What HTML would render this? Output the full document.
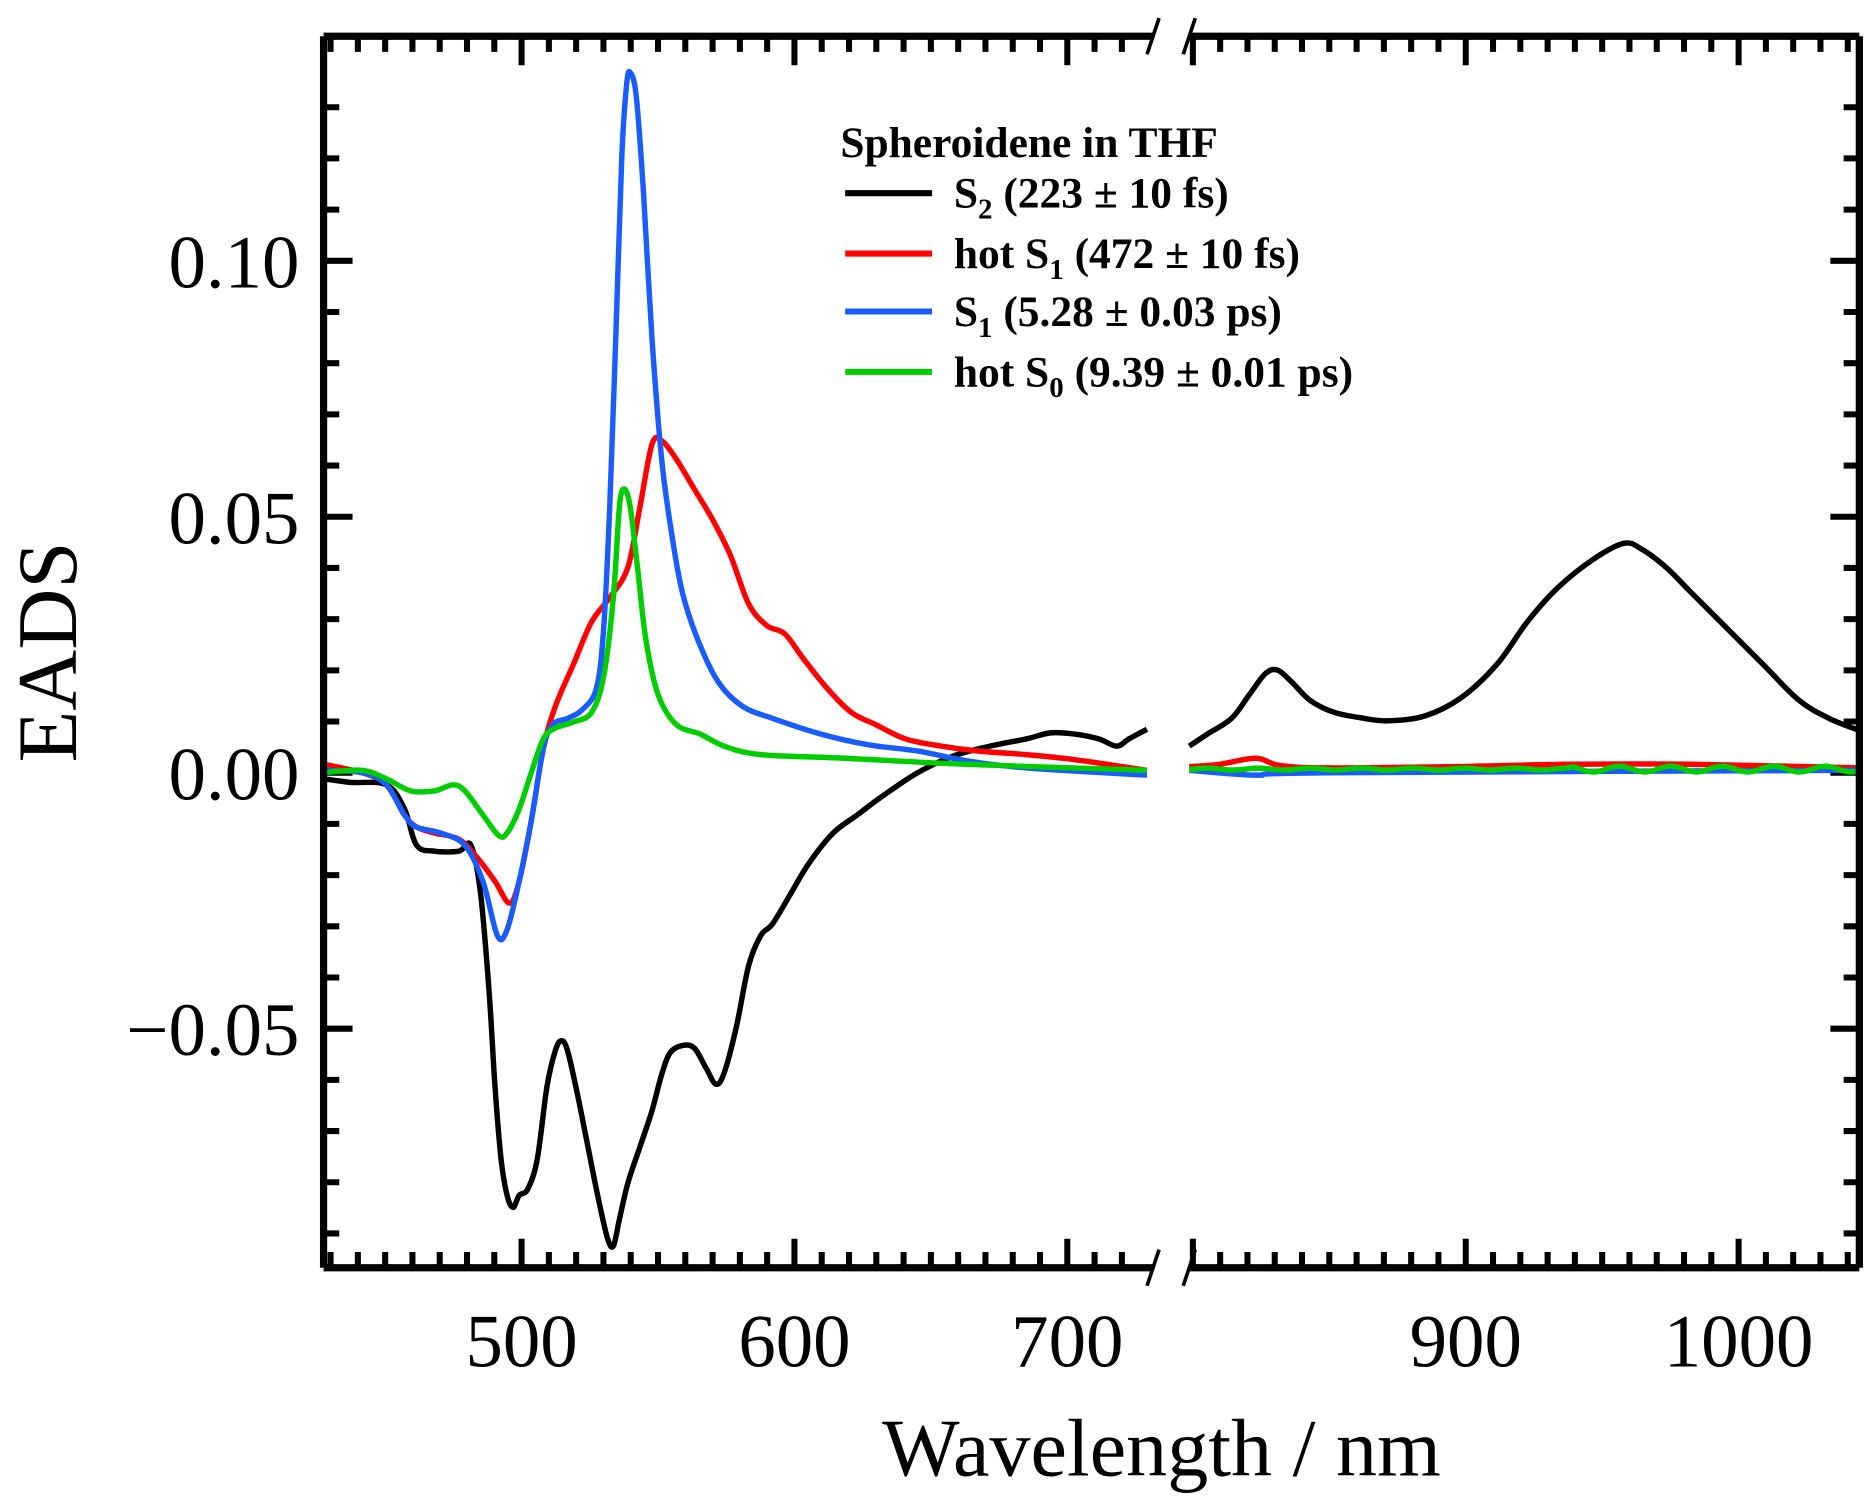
<!DOCTYPE html>
<html><head><meta charset="utf-8"><style>html,body{margin:0;padding:0;background:#fff}svg{display:block}</style></head>
<body>
<svg id="s" xmlns="http://www.w3.org/2000/svg" width="1869" height="1498" viewBox="0 0 1548 1240.7" font-family="Liberation Serif, serif">
<rect width="1548" height="1241" fill="#fff"/>
<g id="ticks" stroke="#000" stroke-width="5"></g>
<g id="curves" fill="none" stroke-width="4.5" stroke-linejoin="round">
<polyline stroke="#000" points="268,645 290,648 320,650 335,670 345,700 360,705 380,705 390,700 398,740 405,820 410,900 415,960 420,990 425,1000 430,990 437,985 445,960 453,900 460,870 465,862 470,870 478,905 487,950 495,990 503,1025 508,1032 513,1010 520,980 530,950 540,920 548,890 555,872 565,866 575,868 585,885 593,898 600,888 610,850 620,800 630,775 640,765 655,740 670,715 690,690 710,675 730,660 760,640 790,626 820,618 850,612 870,607 890,608 910,612 925,618 935,612 950,604"/>
<polyline stroke="#000" points="985,618 1000,608 1020,595 1035,575 1048,558 1058,555 1070,565 1085,580 1105,590 1130,595 1150,597 1180,593 1210,578 1240,550 1265,515 1290,487 1320,463 1345,450 1360,455 1380,470 1400,490 1430,520 1460,550 1490,580 1515,595 1540,605"/>
<polyline stroke="#f00" points="268,633 300,640 320,650 335,675 345,685 360,690 380,695 395,710 410,730 422,748 430,730 440,680 450,620 460,585 475,550 490,515 505,495 520,470 530,420 540,368 548,365 560,380 575,405 590,430 605,460 620,500 635,518 650,525 665,545 685,570 705,590 725,600 750,612 780,618 810,622 850,625 880,628 910,632 950,638"/>
<polyline stroke="#f00" points="985,635 1010,633 1040,628 1060,634 1100,636 1200,635 1300,633 1400,633 1540,636"/>
<polyline stroke="#1a5cff" points="268,638 300,640 320,650 335,675 345,685 365,690 385,700 400,730 412,775 420,770 430,730 440,680 450,620 458,600 470,595 482,588 494,570 500,520 505,420 510,280 515,130 519,70 522,60 527,80 533,160 540,280 548,380 556,440 565,490 578,530 595,565 615,585 640,595 680,608 720,617 760,622 800,630 850,636 950,642"/>
<polyline stroke="#1a5cff" points="985,638 1040,642 1100,640 1540,638"/>
<polyline stroke="#00cc00" points="268,640 300,638 320,645 340,655 360,655 375,650 385,655 400,675 413,692 420,690 430,670 440,640 450,612 460,603 475,598 490,590 500,560 508,495 513,420 517,405 522,420 528,470 535,530 545,575 560,600 580,608 600,618 630,625 700,628 800,633 950,638"/>
<polyline id="gr" stroke="#00cc00" points="985,636 1100,637 1300,636 1540,638"/>
</g>
<g stroke="#000" stroke-width="6" fill="none">
<path d="M268,30 V1050 M1540,30 V1050 M268,30 H955 M985,30 H1540 M268,1050 H955 M985,1050 H1540"/>
</g>
<g stroke="#000" stroke-width="3">
<path d="M950,45 L960,15 M980,45 L990,15 M950,1065 L960,1035 M980,1065 L990,1035"/>
</g>
<g font-size="62" text-anchor="end">
<text x="248" y="238">0.10</text><text x="248" y="450">0.05</text><text x="248" y="662">0.00</text><text x="248" y="874">−0.05</text>
</g>
<g font-size="62" text-anchor="middle">
<text x="432" y="1132">500</text><text x="658" y="1132">600</text><text x="884" y="1132">700</text><text x="1214" y="1132">900</text><text x="1440" y="1132">1000</text>
</g>
<text x="962" y="1222" font-size="68" text-anchor="middle">Wavelength / nm</text>
<text transform="translate(63,540) rotate(-90)" font-size="70" text-anchor="middle">EADS</text>
<g font-size="36" font-weight="bold">
<text x="696" y="130">Spheroidene in THF</text>
<text x="790" y="172">S<tspan font-size="24" dy="9">2</tspan><tspan dy="-9"> (223 ± 10 fs)</tspan></text>
<text x="790" y="222">hot S<tspan font-size="24" dy="9">1</tspan><tspan dy="-9"> (472 ± 10 fs)</tspan></text>
<text x="790" y="270">S<tspan font-size="24" dy="9">1</tspan><tspan dy="-9"> (5.28 ± 0.03 ps)</tspan></text>
<text x="790" y="320">hot S<tspan font-size="24" dy="9">0</tspan><tspan dy="-9"> (9.39 ± 0.01 ps)</tspan></text>
</g>
<g stroke-width="5">
<path d="M700,160 H772" stroke="#000"/><path d="M700,210 H772" stroke="#f00"/>
<path d="M700,258 H772" stroke="#1a5cff"/><path d="M700,308 H772" stroke="#00cc00"/>
</g>
<script>
var g=document.getElementById('ticks'),d='';
for(var v=-0.09;v <= 0.135;v+=0.01){var y=640-v/0.05*212,r=Math.round(v*100),L=(r%5==0)?24:13;
d+='M268,'+y+'h'+L+'M1540,'+y+'h-'+L;}
function xt(a,b,x0,n0){for(var n=a;n <= b;n+=10){var x=x0+(n-n0)*2.26,L=(n%100==0)?24:13;d+='M'+x+',30v'+L+'M'+x+',1050v-'+L;}}
xt(430,720,432,500);xt(800,1040,1214,900);
var p=document.createElementNS('http://www.w3.org/2000/svg','path');p.setAttribute('d',d);g.appendChild(p);
var pts=[];for(var x=985;x <= 1540;x+=6){var nz=(x > 1300)?(Math.sin(x*0.9)*2.5):(Math.sin(x*0.9)*0.8);pts.push(x+','+(637+nz));}
document.getElementById('gr').setAttribute('points',pts.join(' '));
var pl=document.querySelectorAll('#curves polyline');
for(var i=0;i < pl.length;i++){
if(pl[i].id=='gr')continue;
var P=pl[i].getAttribute('points').trim().split(/\s+/).map(function(s){return s.split(',').map(Number)});
var s='M'+P[0][0]+','+P[0][1];
for(var k=0;k < P.length-1;k++){var p0=P[k-1]||P[k],p1=P[k],p2=P[k+1],p3=P[k+2]||p2;
var c1x=p1[0]+(p2[0]-p0[0])/6,c1y=p1[1]+(p2[1]-p0[1])/6,c2x=p2[0]-(p3[0]-p1[0])/6,c2y=p2[1]-(p3[1]-p1[1])/6;
s+='C'+c1x+','+c1y+' '+c2x+','+c2y+' '+p2[0]+','+p2[1];}
var np=document.createElementNS('http://www.w3.org/2000/svg','path');np.setAttribute('d',s);np.setAttribute('stroke',pl[i].getAttribute('stroke'));
pl[i].parentNode.replaceChild(np,pl[i]);}
</script>
</svg>
</body></html>
